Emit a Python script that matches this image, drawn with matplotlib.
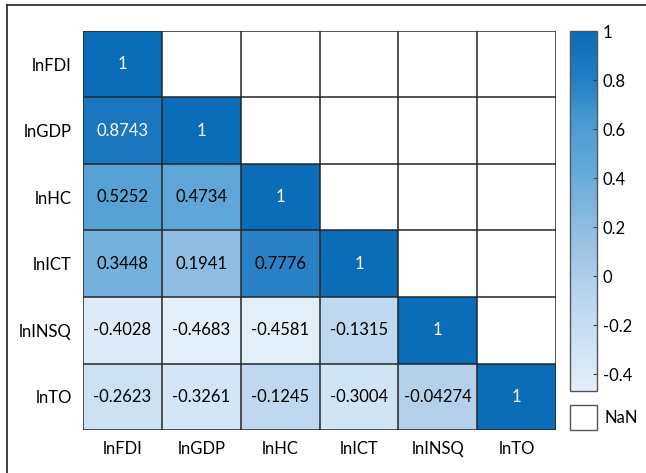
"""Lower-triangle correlation heatmap of the log-transformed variables."""
import matplotlib
matplotlib.use("Agg")
import matplotlib.pyplot as plt
from matplotlib.colors import LinearSegmentedColormap
from matplotlib.patches import Rectangle
from matplotlib.lines import Line2D
import numpy as np

plt.rcParams['font.family'] = ['Lato', 'DejaVu Sans']

names = ['lnFDI', 'lnGDP', 'lnHC', 'lnICT', 'lnINSQ', 'lnTO']

# Lower-triangle correlation coefficients, one row per variable
row_lnFDI = []
row_lnGDP = [0.8743]
row_lnHC = [0.5252, 0.4734]
row_lnICT = [0.3448, 0.1941, 0.7776]
row_lnINSQ = [-0.4028, -0.4683, -0.4581, -0.1315]
row_lnTO = [-0.2623, -0.3261, -0.1245, -0.3004, -0.04274]
rows = [row_lnFDI, row_lnGDP, row_lnHC, row_lnICT, row_lnINSQ, row_lnTO]

cbar_ticks = [-0.4, -0.2, 0, 0.2, 0.4, 0.6, 0.8, 1]

n = len(names)
corr = np.full((n, n), np.nan)
for i, r in enumerate(rows):
    corr[i, :len(r)] = r
    corr[i, i] = 1.0

vmin, vmax = np.nanmin(corr), np.nanmax(corr)

# light sky blue to deep blue
cmap = LinearSegmentedColormap.from_list(
    'blues', [(0.0, '#e3eff9'), (0.25, '#bcd6ee'), (0.42, '#97c1e3'),
              (0.62, '#62a9d9'), (0.75, '#4a9ad0'), (0.88, '#1f7bc2'),
              (1.0, '#0b6cb8')])

fig = plt.figure(figsize=(6.46, 4.73), dpi=100)
ax = fig.add_axes([0.1285, 0.0909, 0.7322, 0.8436])

data = np.ma.masked_invalid(corr)
mesh = ax.pcolormesh(np.arange(n + 1), np.arange(n + 1), data,
                     cmap=cmap, vmin=vmin, vmax=vmax)
ax.set_xlim(0, n)
ax.set_ylim(n, 0)
ax.set_facecolor('white')

# cell borders
for k in range(n + 1):
    ax.axhline(k, color='#262626', lw=1.1, zorder=3)
    ax.axvline(k, color='#262626', lw=1.1, zorder=3)

for i in range(n):
    for j in range(n):
        v = corr[i, j]
        if np.isnan(v):
            continue
        color = 'white' if mesh.norm(v) > 0.85 else 'black'
        ax.text(j + 0.5, i + 0.5, f"{v:.4g}", ha='center', va='center',
                fontsize=12, color=color, zorder=4)

ax.set_xticks(np.arange(n) + 0.5, labels=names, fontsize=12)
ax.set_yticks(np.arange(n) + 0.5, labels=names, fontsize=12)
ax.tick_params(length=0, pad=8)
for s in ax.spines.values():
    s.set_visible(False)

# colorbar
cax = fig.add_axes([0.8824, 0.1734, 0.0418, 0.761])
cbar = fig.colorbar(mesh, cax=cax, ticks=cbar_ticks)
cbar.ax.set_yticklabels([f"{t:g}" for t in cbar_ticks], fontsize=12)
cbar.ax.tick_params(length=3, width=0.8, color='#444444', direction='in', pad=4)
cbar.outline.set_edgecolor('#555555')
cbar.outline.set_linewidth(1)

# missing-value key
fig.patches.append(Rectangle((0.8824, 0.0909), 0.0418, 0.0529, transform=fig.transFigure,
                             facecolor='white', edgecolor='#555555', lw=1))
fig.text(0.935, 0.1173, 'NaN', ha='left', va='center', fontsize=12)

# figure frame
fig.add_artist(Line2D([0.0108, 0.0108], [0.0, 0.9894], transform=fig.transFigure,
                      color='#222222', lw=1.2))
fig.add_artist(Line2D([0.0108, 1.0], [0.9894, 0.9894], transform=fig.transFigure,
                      color='#222222', lw=1.2))

fig.savefig('out.png', dpi=100)
